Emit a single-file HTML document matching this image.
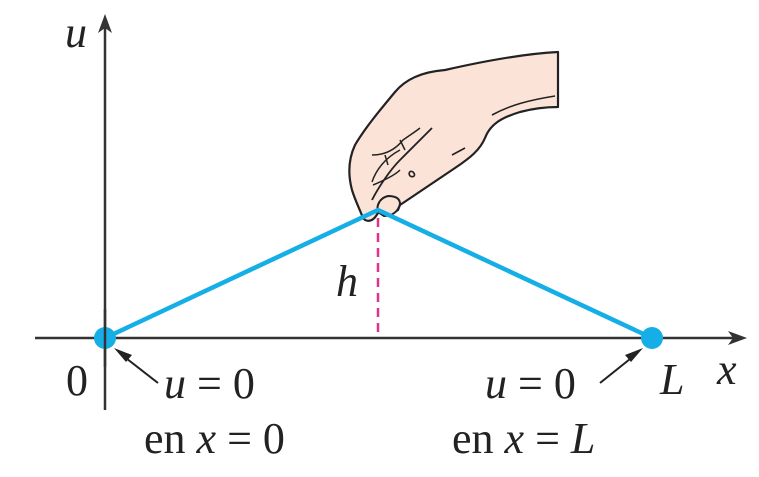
<!DOCTYPE html>
<html><head><style>
body{margin:0;background:#fff;width:759px;height:477px;overflow:hidden}
svg{display:block}
text{font-family:"Liberation Serif",serif;fill:#222}
.i{font-style:italic}
</style></head><body>
<svg width="759" height="477" viewBox="0 0 759 477">
<path d="M558,52 C520,54 480,62 445,70 C420,72 405,80 395,92 C380,110 365,128 355,145 C348,160 348,175 352,190 C355,200 360,210 363,218 C366,222 372,222 376,216 L380,210 C386,212 392,214 398,210 L400,205 C415,195 440,178 455,168 C470,158 480,150 485,138 C490,125 500,118 520,112 C535,108 548,107 558,107 Z" fill="#fce3d8" stroke="#222" stroke-width="2.2" stroke-linejoin="round"/>
<path d="M378,212 C376,205 380,198 388,196 C395,196 400,198 400,204 C398,212 392,216 384,216 Z" fill="#fce3d8" stroke="#222" stroke-width="2"/>
<path d="M372,200 C378,188 390,170 400,160 C412,148 425,135 432,128" fill="none" stroke="#222" stroke-width="1.8"/>
<path d="M373,185 C385,180 395,175 400,170 M372,182 C376,170 385,158 400,150 M372,155 C385,155 395,150 403,140 C410,135 415,132 420,128 M400,140 L405,150 M385,155 L388,165" fill="none" stroke="#222" stroke-width="1.5"/>
<path d="M492,115 C510,105 530,100 555,96 M452,155 L465,148 M410,176 C408,173 410,170 413,172 C416,175 414,178 410,176" fill="none" stroke="#222" stroke-width="1.6"/>
<line x1="35" y1="338" x2="735" y2="338" stroke="#333" stroke-width="2.5"/>
<polygon points="747,338 728,331 733,338 728,345" fill="#333"/>
<line x1="105" y1="410" x2="105" y2="28" stroke="#333" stroke-width="2.5"/>
<polygon points="105,14 98,33 105,28 112,33" fill="#333"/>
<polyline points="105,338 378,210 652,338" fill="none" stroke="#16aee6" stroke-width="4.5" stroke-linejoin="round"/>
<line x1="378" y1="218" x2="378" y2="338" stroke="#e0338c" stroke-width="2.5" stroke-dasharray="9,6"/>
<circle cx="105" cy="338" r="11" fill="#16aee6"/>
<circle cx="652" cy="338" r="11" fill="#16aee6"/>
<line x1="105" y1="309" x2="105" y2="367" stroke="#333" stroke-width="2.5"/>
<line x1="158" y1="383" x2="122" y2="355" stroke="#222" stroke-width="2"/>
<polygon points="114,348 132,355 126,362" fill="#222"/>
<line x1="600" y1="383" x2="635" y2="355" stroke="#222" stroke-width="2"/>
<polygon points="643,348 625,355 631,362" fill="#222"/>
<text x="65" y="47" class="i" font-size="44">u</text>
<text x="717" y="384" class="i" font-size="44">x</text>
<text x="66" y="395" font-size="44">0</text>
<text x="660" y="394" class="i" font-size="44">L</text>
<text x="336" y="296" class="i" font-size="44">h</text>
<text x="164" y="398" font-size="44"><tspan class="i">u</tspan> = 0</text>
<text x="485" y="398" font-size="44"><tspan class="i">u</tspan> = 0</text>
<text x="144" y="453" font-size="44" fill="#000">en <tspan class="i">x</tspan> = 0</text>
<text x="452" y="453" font-size="44" fill="#000">en <tspan class="i">x</tspan> = <tspan class="i">L</tspan></text>
</svg>
</body></html>
